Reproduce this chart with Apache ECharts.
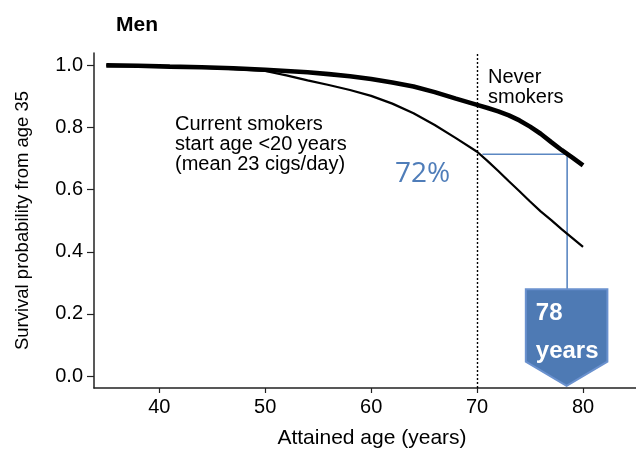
<!DOCTYPE html>
<html><head><meta charset="utf-8">
<script src="https://cdn.jsdelivr.net/npm/echarts@6/dist/echarts.min.js"></script>
<style>html,body{margin:0;padding:0;background:#fff}#c{width:636px;height:454px}</style>
</head><body><div id="c"></div>
<script>
// ---- data ----
const ages           = [35, 38, 41, 44, 47, 50, 52, 54, 56, 58, 60, 62, 64, 66, 68, 70, 71, 72, 73, 74, 75, 76, 77, 78, 79, 80];
const neverSmokers   = [1.000, 0.999, 0.996, 0.994, 0.991, 0.986, 0.982, 0.978, 0.972, 0.965, 0.956, 0.945, 0.932, 0.914, 0.893, 0.873, 0.863, 0.852, 0.839, 0.823, 0.803, 0.780, 0.753, 0.727, 0.703, 0.678];
const currentSmokers = [1.000, 0.999, 0.996, 0.993, 0.988, 0.982, 0.968, 0.952, 0.937, 0.921, 0.902, 0.877, 0.846, 0.808, 0.766, 0.722, 0.692, 0.660, 0.627, 0.595, 0.562, 0.530, 0.502, 0.472, 0.444, 0.416];
const xTicks = [40, 50, 60, 70, 80];
const yTicks = [0.0, 0.2, 0.4, 0.6, 0.8, 1.0];
const cutoffAge = 70;
const smokerSurvivalAt70 = 0.714;   // 72%
const equivalentNeverAge = 78.5;    // 78 years
const bracketStartAge = 70.5;
// arrow box (data units): centre age, left age, right age, top, rect bottom, tip
const arrowBox = [78.45, 74.6, 82.3, 0.279, 0.046, -0.032];

const FONT = '"Liberation Sans", Arial, Helvetica, sans-serif';
const chart = echarts.init(document.getElementById('c'), null, {renderer: 'canvas'});

const pairs = (xs, ys) => xs.map((x, i) => [x, ys[i]]);

chart.setOption({
  animation: false,
  backgroundColor: '#fff',
  grid: {left: 94, right: 0, top: 53, bottom: 66},
  xAxis: {
    type: 'value', min: 33.84, max: 85,
    name: 'Attained age (years)', nameLocation: 'middle', nameGap: 40,
    nameTextStyle: {fontFamily: FONT, fontSize: 21, color: '#000', padding: [0, 0, 0, 14]},
    axisLine: {show: true, onZero: false, lineStyle: {color: '#222', width: 1.5}},
    axisTick: {show: true, length: 5, customValues: xTicks, lineStyle: {color: '#222', width: 1.2}},
    axisLabel: {customValues: xTicks, margin: 9, fontFamily: FONT, fontSize: 20, color: '#000'},
    splitLine: {show: false}
  },
  yAxis: {
    type: 'value', min: -0.0386, max: 1.040,
    name: 'Survival probability from age 35', nameLocation: 'middle', nameGap: 62, nameRotate: 90,
    nameTextStyle: {fontFamily: FONT, fontSize: 18.5, color: '#000'},
    axisLine: {show: true, onZero: false, lineStyle: {color: '#222', width: 1.5}},
    axisTick: {show: true, length: 7, customValues: yTicks, lineStyle: {color: '#222', width: 1.2}},
    axisLabel: {customValues: yTicks, margin: 11, fontFamily: FONT, fontSize: 20, color: '#000',
      formatter: v => Number(v).toFixed(1)},
    splitLine: {show: false}
  },
  series: [
    {
      type: 'line', name: 'bracket', z: 1,
      data: [[bracketStartAge, smokerSurvivalAt70], [equivalentNeverAge, smokerSurvivalAt70], [equivalentNeverAge, arrowBox[3]]],
      symbol: 'none', lineStyle: {color: '#5B87C2', width: 1.6}, silent: true
    },
    {
      type: 'custom', name: 'arrow', z: 2, clip: false,
      data: [arrowBox],
      renderItem: function (params, api) {
        const cx = api.value(0), l = api.value(1), r = api.value(2), t = api.value(3), b = api.value(4), tip = api.value(5);
        const pTL = api.coord([l, t]), pBR = api.coord([r, b]), pTip = api.coord([cx, tip]);
        const pts = [[pTL[0], pTL[1]], [pBR[0], pTL[1]], [pBR[0], pBR[1]], [pTip[0], pTip[1]], [pTL[0], pBR[1]]];
        return {type: 'group', children: [
          {type: 'polygon', shape: {points: pts}, style: {fill: '#4E7AB4', stroke: '#6A91CE', lineWidth: 2}},
          {type: 'text', x: pTL[0] + 10, y: pTL[1] + 24,
            style: {text: String(Math.floor(equivalentNeverAge)), fill: '#fff', font: 'bold 24px ' + FONT, verticalAlign: 'middle'}},
          {type: 'text', x: pTL[0] + 10, y: pTL[1] + 62,
            style: {text: 'years', fill: '#fff', font: 'bold 24px ' + FONT, verticalAlign: 'middle'}}
        ]};
      }
    },
    {
      type: 'line', name: 'Current smokers', z: 3,
      data: pairs(ages, currentSmokers),
      symbol: 'none', lineStyle: {color: '#000', width: 2.2}
    },
    {
      type: 'line', name: 'Never smokers', z: 4,
      data: pairs(ages, neverSmokers),
      symbol: 'none', lineStyle: {color: '#000', width: 4.6},
      markLine: {
        silent: true, symbol: ['none', 'none'], label: {show: false},
        lineStyle: {color: '#000', type: [2, 2], width: 1.4},
        data: [{xAxis: cutoffAge}]
      }
    }
  ],
  graphic: [
    {type: 'text', left: 116, top: 15, style: {text: 'Men', font: 'bold 21px ' + FONT, fill: '#000'}},
    {type: 'text', x: 175, y: 114, style: {text: 'Current smokers\nstart age <20 years\n(mean 23 cigs/day)', font: '20px ' + FONT, lineHeight: 20, fill: '#000', verticalAlign: 'top'}},
    {type: 'text', x: 488, y: 67, style: {text: 'Never\nsmokers', font: '20px ' + FONT, lineHeight: 20, fill: '#000', verticalAlign: 'top'}},
    {type: 'text', x: 395, y: 174, style: {text: '72%', font: '28px "Open Sans", Lato, sans-serif', fill: '#4F7DB9', verticalAlign: 'middle'}}
  ]
});
</script>
</body></html>
